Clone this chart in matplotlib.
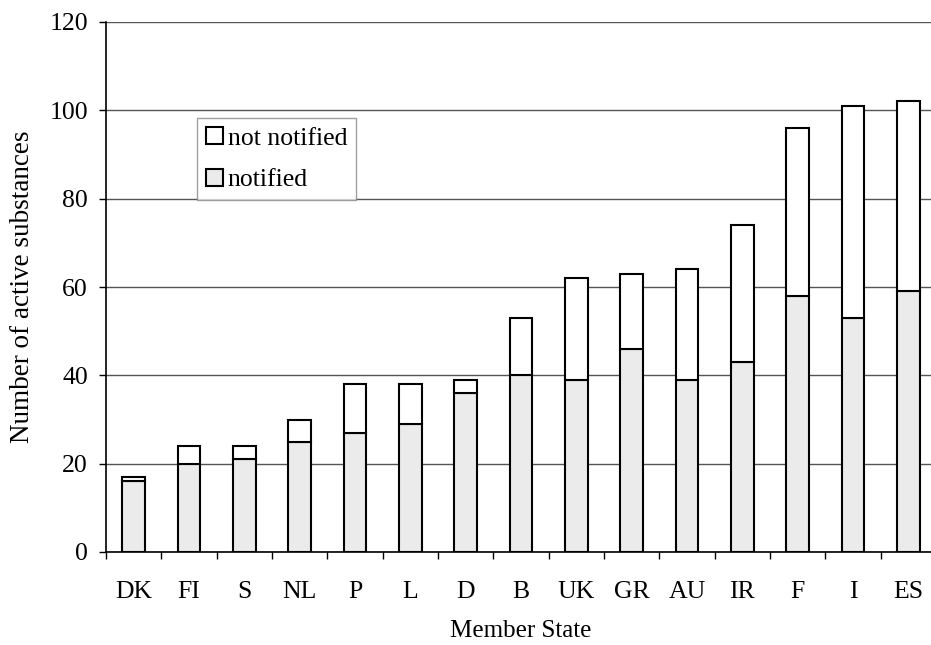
import matplotlib
matplotlib.use("Agg")
import matplotlib.pyplot as plt
import numpy as np

states = ["DK", "FI", "S", "NL", "P", "L", "D", "B", "UK", "GR", "AU", "IR", "F", "I", "ES"]
notified = [16, 20, 21, 25, 27, 29, 36, 40, 39, 46, 39, 43, 58, 53, 59]
total = [17, 24, 24, 30, 38, 38, 39, 53, 62, 63, 64, 74, 96, 101, 102]
not_notified = [t - n for t, n in zip(total, notified)]
yticks = [0, 20, 40, 60, 80, 100, 120]

plt.rcParams['font.family'] = ['Liberation Serif', 'DejaVu Serif']

fig = plt.figure(figsize=(9.31, 6.45), dpi=100)
ax = fig.add_axes([106/931, (645-552)/645, (936-106)/931, (552-22)/645])

x = np.arange(len(states))
w = 0.41
ax.bar(x, notified, w, color="#ebebeb", edgecolor="black", linewidth=1.5, label="notified", zorder=3)
ax.bar(x, not_notified, w, bottom=notified, color="white", edgecolor="black", linewidth=1.5,
       label="not notified", zorder=3)

ax.set_ylim(0, 120)
ax.set_xlim(-0.5, 14.5)
ax.set_yticks(yticks)
ax.set_yticklabels([str(v) for v in yticks], fontsize=18.5)
ax.yaxis.grid(True, color="#555555", linewidth=1.0, zorder=0)
ax.set_axisbelow(True)

ax.set_xticks(x)
ax.set_xticklabels(states, fontsize=18.5)
ax.tick_params(axis="x", length=0, pad=21)
ax.set_xticks(np.arange(-0.5, 14.5, 1), minor=True)
ax.tick_params(axis="x", which="minor", length=5, width=1, direction="out")
ax.tick_params(axis="y", length=5, width=1, direction="out", pad=8)

for s in ["top", "right"]:
    ax.spines[s].set_visible(False)
ax.spines["left"].set_linewidth(1.2)
ax.spines["bottom"].set_linewidth(1.2)

ax.set_xlabel("Member State", fontsize=18, labelpad=12)
ax.set_ylabel("Number of active substances", fontsize=19.5, labelpad=10)

handles, labels = ax.get_legend_handles_labels()
leg = ax.legend(handles[::-1], labels[::-1], loc="upper left",
                bbox_to_anchor=(197/931, 1 - 118/645), bbox_transform=fig.transFigure,
                fontsize=18.5, frameon=True, fancybox=False, edgecolor="#888888",
                handlelength=0.65, handleheight=0.65, handletextpad=0.2,
                borderpad=0.35, labelspacing=0.75, borderaxespad=0)
leg.get_frame().set_linewidth(1.0)

fig.savefig("out.png", dpi=100)
